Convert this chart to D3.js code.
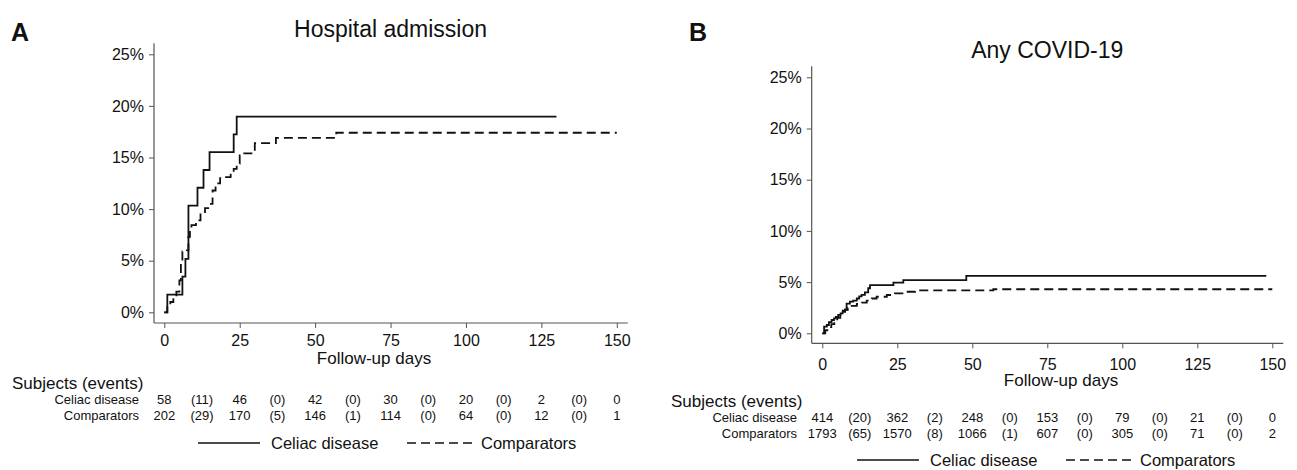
<!DOCTYPE html>
<html>
<head>
<meta charset="utf-8">
<script src="https://cdn.jsdelivr.net/npm/d3@7"></script>
<style>
  body { margin: 0; background: #fff; }
  text { font-family: "Liberation Sans", Arial, sans-serif; fill: #111; }
</style>
</head>
<body>
<div id="chart"></div>
<script>
// x ticks (follow-up days) and y ticks (cumulative %)
var dayTicks = [0, 25, 50, 75, 100, 125, 150];
var pctTicks = [0, 5, 10, 15, 20, 25];
// risk table columns sit at every tick and every midpoint
var tableDays = [0, 12.5, 25, 37.5, 50, 62.5, 75, 87.5, 100, 112.5, 125, 137.5, 150];

// Panel A: hospital admission, [day, cumulative %]
var hospCeliac = [[0,0],[1,1.72],[6,3.45],[7,5.17],[8,10.34],[11,12.07],[13,13.79],[15,15.52],[23,17.24],[24,18.97],[130,18.97]];
var hospComp = [[0,0],[1,0.5],[2,1.0],[3,1.5],[4,2.0],[5,3.1],[5.5,5.0],[6,5.9],[7.5,6.0],[8,7.3],[8.5,8.0],[9,8.45],[10.5,8.9],[12,9.6],[13.5,10.1],[15,10.5],[16,11.8],[17,12.5],[18.5,13.0],[20,13.1],[22,13.45],[23,13.9],[24,14.4],[25,15.2],[26,15.4],[30,16.4],[37,16.9],[57,17.4],[150,17.4]];
var hospCeliacRisk = ["58","(11)","46","(0)","42","(0)","30","(0)","20","(0)","2","(0)","0"];
var hospCompRisk = ["202","(29)","170","(5)","146","(1)","114","(0)","64","(0)","12","(0)","1"];

// Panel B: any COVID-19
var covidCeliac = [[0,0],[0.6,0.65],[1.5,0.81],[2.2,1.1],[3.1,1.3],[3.9,1.46],[4.5,1.6],[5.3,1.8],[6.1,1.95],[6.8,2.2],[7.6,2.3],[8.1,2.9],[9.2,3.1],[10.3,3.2],[11.5,3.4],[12.3,3.6],[13.1,3.75],[14.2,4.0],[15.3,4.4],[15.9,4.7],[23.7,4.95],[27,5.2],[48,5.6],[148,5.6]];
var covidComp = [[0,0],[1,0.3],[2,0.6],[3,0.9],[4,1.2],[5,1.5],[6,1.8],[7,2.1],[7.6,2.3],[8.5,2.45],[9.8,2.67],[11.5,2.86],[13.1,3.0],[14.8,3.2],[16.5,3.4],[18.1,3.57],[21.5,3.74],[24.2,3.9],[28,4.06],[30.9,4.2],[57,4.3],[150,4.3]];
var covidCeliacRisk = ["414","(20)","362","(2)","248","(0)","153","(0)","79","(0)","21","(0)","0"];
var covidCompRisk = ["1793","(65)","1570","(8)","1066","(1)","607","(0)","305","(0)","71","(0)","2"];

var rowLabels = ["Celiac disease", "Comparators"];
var seriesNames = ["Celiac disease", "Comparators"];

var svg = d3.select("#chart").append("svg")
  .attr("width", 1297)
  .attr("height", 470);

function drawPanel(p) {
  var x = d3.scaleLinear().domain([0, 150]).range([p.x0, p.x1]);
  var y = d3.scaleLinear().domain([0, 25]).range([p.y0, p.y1]);
  var g = svg.append("g");

  // panel letter and title
  g.append("text").attr("x", p.letterX).attr("y", p.letterY)
    .style("font-size", "25px").style("font-weight", "bold").text(p.letter);
  g.append("text").attr("x", (p.x0 + p.x1) / 2).attr("y", p.titleY)
    .attr("text-anchor", "middle").style("font-size", "23px").text(p.title);

  // y axis
  var yAxis = g.append("g")
    .attr("transform", "translate(" + p.axisX + ",0)")
    .call(d3.axisLeft(y).tickValues(pctTicks).tickSize(5).tickPadding(5)
      .tickFormat(function(d) { return d + "%"; }));
  yAxis.select(".domain").remove();
  yAxis.selectAll("text").style("font-size", "16px").style("font-family", "Liberation Sans, Arial, sans-serif");
  yAxis.selectAll("line").attr("stroke", "#555");
  g.append("line")
    .attr("x1", p.axisX).attr("x2", p.axisX)
    .attr("y1", y(25) - 11).attr("y2", p.axisY)
    .attr("stroke", "#555").attr("stroke-width", 1.2);

  // x axis
  var xAxis = g.append("g")
    .attr("transform", "translate(0," + p.axisY + ")")
    .call(d3.axisBottom(x).tickValues(dayTicks).tickSize(5).tickPadding(p.xPad));
  xAxis.select(".domain").remove();
  xAxis.selectAll("text").style("font-size", "16px").style("font-family", "Liberation Sans, Arial, sans-serif");
  xAxis.selectAll("line").attr("stroke", "#555");
  g.append("line")
    .attr("x1", p.axisX).attr("x2", x(150) + 11)
    .attr("y1", p.axisY).attr("y2", p.axisY)
    .attr("stroke", "#555").attr("stroke-width", 1.2);
  g.append("text").attr("x", p.xTitleX).attr("y", p.xTitleY)
    .attr("text-anchor", "middle").style("font-size", "17px").text("Follow-up days");

  // curves
  var line = d3.line()
    .x(function(d) { return x(d[0]); })
    .y(function(d) { return y(d[1]); })
    .curve(d3.curveStepAfter);
  g.append("path").datum(p.comp)
    .attr("fill", "none").attr("stroke", "#111").attr("stroke-width", 1.8)
    .attr("stroke-dasharray", "9,5").attr("d", line);
  g.append("path").datum(p.celiac)
    .attr("fill", "none").attr("stroke", "#111").attr("stroke-width", 1.8)
    .attr("d", line);

  // risk table
  g.append("text").attr("x", p.subjX).attr("y", p.subjY)
    .style("font-size", "17px").text("Subjects (events)");
  [p.celiacRisk, p.compRisk].forEach(function(row, i) {
    var ry = p.subjY + 15 + i * 16;
    g.append("text").attr("x", p.rowLabelX).attr("y", ry)
      .attr("text-anchor", "end").style("font-size", "13px").text(rowLabels[i]);
    g.selectAll(null).data(row).enter().append("text")
      .attr("x", function(d, j) { return x(tableDays[j]); })
      .attr("y", ry)
      .attr("text-anchor", "middle").style("font-size", "13px")
      .text(function(d) { return d; });
  });

  // legend
  var lg = g.append("g").attr("transform", "translate(" + p.legX + "," + p.legY + ")");
  lg.append("line").attr("x1", 0).attr("x2", 62).attr("y1", 0).attr("y2", 0)
    .attr("stroke", "#111").attr("stroke-width", 1.5);
  lg.append("text").attr("x", 73).attr("y", 6).style("font-size", "16.5px").text(seriesNames[0]);
  lg.append("line").attr("x1", 209).attr("x2", 274).attr("y1", 0).attr("y2", 0)
    .attr("stroke", "#111").attr("stroke-width", 1.5).attr("stroke-dasharray", "9,5");
  lg.append("text").attr("x", 283).attr("y", 6).style("font-size", "16.5px").text(seriesNames[1]);
}

drawPanel({
  letter: "A", letterX: 11, letterY: 41,
  title: "Hospital admission", titleY: 37,
  x0: 164.3, x1: 616.8, y0: 312.3, y1: 54.3,
  axisX: 154, axisY: 323, xPad: 7,
  xTitleX: 374, xTitleY: 364,
  celiac: hospCeliac, comp: hospComp,
  celiacRisk: hospCeliacRisk, compRisk: hospCompRisk,
  subjX: 12, subjY: 389, rowLabelX: 139,
  legX: 198, legY: 443
});

drawPanel({
  letter: "B", letterX: 689, letterY: 41,
  title: "Any COVID-19", titleY: 58,
  x0: 822.3, x1: 1272.3, y0: 333.3, y1: 77.3,
  axisX: 811.7, axisY: 343.3, xPad: 10,
  xTitleX: 1061, xTitleY: 386,
  celiac: covidCeliac, comp: covidComp,
  celiacRisk: covidCeliacRisk, compRisk: covidCompRisk,
  subjX: 671, subjY: 407, rowLabelX: 797,
  legX: 857, legY: 460
});
</script>
</body>
</html>
